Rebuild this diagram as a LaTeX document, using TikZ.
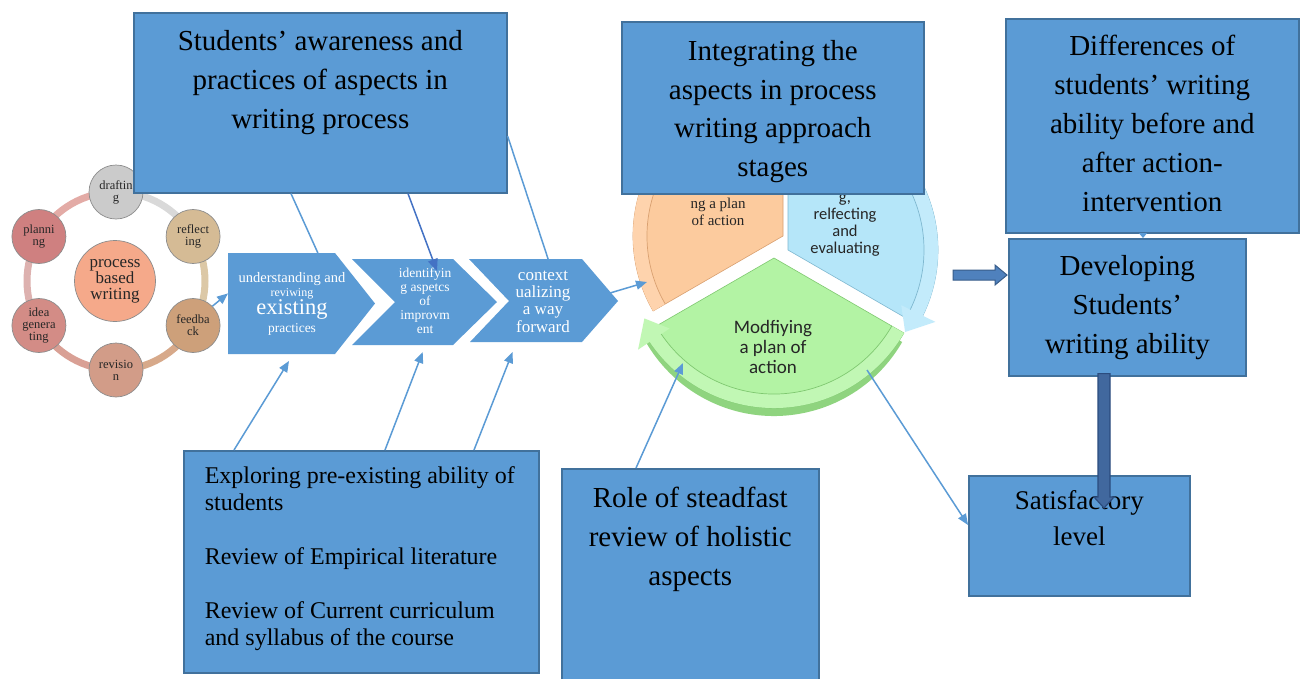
\documentclass[tikz,border=0pt]{standalone}
\usepackage{fontspec}
\setmainfont{Liberation Serif}
\newfontfamily\calfont{Carlito}
\usetikzlibrary{arrows.meta,calc}

\definecolor{boxfill}{HTML}{5B9BD5}
\definecolor{boxedge}{HTML}{41719C}
\definecolor{linkblue}{HTML}{5B9BD5}
\definecolor{linkdark}{HTML}{4472C4}
\definecolor{blockfill}{HTML}{4F81BD}
\definecolor{blockedge}{HTML}{385D8A}
\definecolor{downfill}{HTML}{41689E}
\definecolor{downedge}{HTML}{2B4C7E}
% ring and circles of the writing cycle
\definecolor{cDraft}{HTML}{CBCBCB}
\definecolor{cReflect}{HTML}{D5BB95}
\definecolor{cFeed}{HTML}{CDA07A}
\definecolor{cRevis}{HTML}{D29C88}
\definecolor{cIdea}{HTML}{D38C86}
\definecolor{cPlan}{HTML}{CF8080}
\definecolor{cCore}{HTML}{F5A98A}
\definecolor{rPlanDraft}{HTML}{E3ABA6}
\definecolor{rDraftRefl}{HTML}{D9D9D9}
\definecolor{rReflFeed}{HTML}{DCC8A6}
\definecolor{rFeedRev}{HTML}{D7A98A}
\definecolor{rRevIdea}{HTML}{D9A095}
\definecolor{rIdeaPlan}{HTML}{DDB1AF}
% action research cycle
\definecolor{oBody}{HTML}{FCCB9E}
\definecolor{oBand}{HTML}{FED3AD}
\definecolor{oEdge}{HTML}{D9A070}
\definecolor{bBody}{HTML}{B5E6F9}
\definecolor{bBand}{HTML}{C3EBFB}
\definecolor{bEdge}{HTML}{7FB8D0}
\definecolor{gBody}{HTML}{B3F3A4}
\definecolor{gBand}{HTML}{C1F7B4}
\definecolor{gEdge}{HTML}{7FC870}
\definecolor{gShade}{HTML}{8FD47F}

% one segment of the cycle: vertex, start angle, end angle, body, band, edge
\newcommand\cyseg[6]{%
  \filldraw[fill=#4, draw=#6, line width=0.6pt] (#1) -- ($(#1)+(#2:150)$)
    arc[start angle=#2, end angle=#3, radius=150] -- cycle;
  \fill[#5] ($(#1)+(#2:136)$) arc[start angle=#2, end angle=#3-4, radius=136]
    -- ($(#1)+(#3-4:126)$) -- ($(#1)+(#3+5:143)$) -- ($(#1)+(#3-4:164)$)
    -- ($(#1)+(#3-4:150)$) arc[start angle=#3-4, end angle=#2, radius=150] -- cycle;
  \draw[#6, line width=0.7pt] ($(#1)+(#2:136)$) arc[start angle=#2, end angle=#3-4, radius=136];
}

\begin{document}
\begin{tikzpicture}[x=1pt,y=-1pt,
  bluebox/.style={draw=boxedge, fill=boxfill, line width=1.6pt, inner sep=0pt, anchor=north west},
  link/.style={draw=linkblue, line width=1.5pt},
  tip/.style={-{Triangle[length=11pt,width=9pt]}},
  smallc/.style={circle, minimum size=54pt, inner sep=0pt, draw=black!45, line width=0.7pt,
    align=center, font=\fontsize{12.5}{12}\selectfont, text=black!85},
  ctext/.style={inner sep=0pt, text=white},
  segtext/.style={inner sep=0pt, anchor=north, text=black!85},
]
\useasboundingbox (0,0) rectangle (1303,678);
\fill[white] (0,0) rectangle (1303,678);

% ---------- process based writing cycle ----------
\coordinate (rc) at (116,281);
\foreach \a/\b/\c in {210/270/rPlanDraft, 270/330/rDraftRefl, -30/30/rReflFeed,
                      30/90/rFeedRev, 90/150/rRevIdea, 150/210/rIdeaPlan}
  \draw[\c, line width=7pt] ($(rc)+(\a:89)$) arc[start angle=\a, end angle=\b, radius=89];
\node[smallc, fill=cDraft]   (drafting)   at ($(rc)+(270:89)$) {draftin\\g};
\node[smallc, fill=cReflect] (reflecting) at ($(rc)+(330:89)$) {reflect\\ing};
\node[smallc, fill=cFeed]    (feedback)   at ($(rc)+(30:89)$)  {feedba\\ck};
\node[smallc, fill=cRevis]   (revision)   at ($(rc)+(90:89)$)  {revisio\\n};
\node[smallc, fill=cIdea]    (idea)       at ($(rc)+(150:89)$) {idea\\genera\\ting};
\node[smallc, fill=cPlan]    (planning)   at ($(rc)+(210:89)$) {planni\\ng};
\node[smallc, fill=cCore, minimum size=81pt, font=\fontsize{17}{16}\selectfont]
  (core) at (115,281) {process\\based\\writing};

% ---------- action research cycle ----------
\coordinate (vo) at (783,236);
\coordinate (vb) at (788,250);
\coordinate (vg) at (774,258);
\cyseg{vo}{150}{270}{oBody}{oBand}{oEdge}
\fill[gShade] ($(vg)+(0,10)$) -- ($(vg)+(0,10)+(30:148)$)
  arc[start angle=30, end angle=150, radius=148] -- cycle;
\cyseg{vg}{30}{150}{gBody}{gBand}{gEdge}
\cyseg{vb}{-90}{30}{bBody}{bBand}{bEdge}
\node[segtext] (plantxt) at (718,196)
  {\parbox[t]{90pt}{\centering\fontsize{15}{17}\selectfont\rule{0pt}{12pt}ng a plan\\of action}};
\node[segtext] (evaltxt) at (845,190)
  {\parbox[t]{90pt}{\centering\calfont\fontsize{16.5}{17}\selectfont\rule{0pt}{12pt}g,\\relfecting\\and\\evaluating}};
\node[segtext] (modtxt) at (773,319)
  {\parbox[t]{110pt}{\centering\calfont\fontsize{19}{20}\selectfont\rule{0pt}{14pt}Modfiying\\a plan of\\action}};
\coordinate (orgin) at (647,282);
\coordinate (grnin) at (683,363);
\coordinate (grnout) at (867,370);

% ---------- chevrons ----------
\coordinate (p1a) at (228,253); \coordinate (p1b) at (335,253); \coordinate (p1c) at (375,303.5);
\coordinate (p1d) at (335,354); \coordinate (p1e) at (228,354);
\coordinate (p2a) at (352,259); \coordinate (p2b) at (453,259); \coordinate (p2c) at (497,302);
\coordinate (p2d) at (453,345); \coordinate (p2e) at (352,345); \coordinate (p2f) at (395,302);
\coordinate (p3a) at (469,259); \coordinate (p3b) at (582,259); \coordinate (p3c) at (618,301);
\coordinate (p3d) at (582,342); \coordinate (p3e) at (470,342); \coordinate (p3f) at (509,301);

% box A first, so the lines below leave its edge
\node[bluebox] (aware) at (133,12)
  {\parbox[t][180pt][t]{373pt}{\centering\fontsize{29}{39}\selectfont\rule{0pt}{38pt}Students’ awareness and\\practices of aspects in\\writing process}};

\draw[link] ($(aware.south west)+(158,0)$) -- ($(p1a)!0.84!(p1b)$);
\draw[link] ($(aware.north east)+(0,124)$) -- ($(p3a)!0.7!(p3b)$);

\fill[boxfill] (p1a) -- (p1b) -- (p1c) -- (p1d) -- (p1e) -- cycle;
\fill[boxfill] (p2a) -- (p2b) -- (p2c) -- (p2d) -- (p2e) -- (p2f) -- cycle;
\fill[boxfill] (p3a) -- (p3b) -- (p3c) -- (p3d) -- (p3e) -- (p3f) -- cycle;

\node[ctext, anchor=base, font=\fontsize{14.5}{15}\selectfont] (ch1l1) at (292,282) {understanding and};
\node[ctext, anchor=base, font=\fontsize{12}{12}\selectfont]   (ch1l2) at (292,296) {reviwing};
\node[ctext, anchor=base, font=\fontsize{22.5}{23}\selectfont] (ch1l3) at (292,314) {existing};
\node[ctext, anchor=base, font=\fontsize{13.5}{14}\selectfont] (ch1l4) at (292,332) {practices};
\node[ctext, anchor=north] (ch2txt) at (425,266)
  {\parbox[t]{90pt}{\centering\fontsize{13.5}{14}\selectfont\rule{0pt}{11pt}identifyin\\g aspetcs\\of\\improvm\\ent}};
\node[ctext, anchor=north] (ch3txt) at (543,266)
  {\parbox[t]{100pt}{\centering\fontsize{17}{17.3}\selectfont\rule{0pt}{14pt}context\\ualizing\\a way\\forward}};
\coordinate (ch2in) at ($(p2a)+(85,12)$);

% ---------- boxes ----------
\node[bluebox] (integ) at (621,21)
  {\parbox[t][172pt][t]{302pt}{\centering\fontsize{29}{38.5}\selectfont\rule{0pt}{39pt}Integrating the\\aspects in process\\writing approach\\stages}};
\node[bluebox] (diff) at (1005,18)
  {\parbox[t][214pt][t]{293pt}{\centering\fontsize{29}{38.8}\selectfont\rule{0pt}{37pt}Differences of\\students’ writing\\ability before and\\after action-\\intervention}};
\node[bluebox] (devel) at (1008,238)
  {\parbox[t][137pt][t]{237pt}{\centering\fontsize{29}{39}\selectfont\rule{0pt}{37pt}Developing\\Students’\\writing ability}};
\node[bluebox] (notes) at (183,450)
  {\parbox[t][222pt][t]{355pt}{\raggedright\leftskip=21pt\fontsize{24}{27}\selectfont\rule{0pt}{33pt}Exploring pre-existing ability of\\students\\[27pt]Review of Empirical literature\\[27pt]Review of Current curriculum\\and syllabus of the course}};
\node[bluebox] (role) at (561,468)
  {\parbox[t][212pt][t]{257pt}{\centering\fontsize{29}{39}\selectfont\rule{0pt}{39pt}Role of steadfast\\review of holistic\\aspects}};
\node[bluebox] (sat) at (968,475)
  {\parbox[t][120pt][t]{221pt}{\centering\fontsize{27}{36}\selectfont\rule{0pt}{34pt}Satisfactory\\level}};

% ---------- connectors ----------
\draw[link, draw=linkdark, -{Triangle[length=12pt,width=10pt]}, color=linkdark]
  ($(aware.south west)+(275,0)$) -- (ch2in);
\draw[link, tip, color=linkblue] (feedback.45) -- ($(p1e)!0.6!(p1a)$);
\draw[link, tip, color=linkblue] ($(p3c)+(-8,-8)$) -- (orgin);
\draw[link, tip, color=linkblue] ($(notes.north west)+(51,0)$) -- ($(p1e)!0.57!(p1d)+(0,7)$);
\draw[link, tip, color=linkblue] ($(notes.north west)+(202,0)$) -- ($(p2e)!0.7!(p2d)+(0,7)$);
\draw[link, tip, color=linkblue] ($(notes.north west)+(291,0)$) -- ($(p3e)!0.38!(p3d)+(0,10)$);
\draw[link, tip, color=linkblue] ($(role.north west)+(75,0)$) -- (grnin);
\draw[link, tip, color=linkblue] (grnout) -- ($(sat.north west)+(0,50)$);
\draw[linkblue, line width=1pt, -{Triangle[length=5pt,width=8pt]}]
  ($(diff.south west)+(138,0)$) -- ($(devel.north west)+(135,0)$);

% block arrow into the development box
\coordinate (bt) at ($(devel.north west)+(-1,37)$);
\filldraw[fill=blockfill, draw=blockedge, line width=1pt]
  ($(bt)+(-54,-5)$) -- ($(bt)+(-12,-5)$) -- ($(bt)+(-12,-10)$) -- (bt)
  -- ($(bt)+(-12,10)$) -- ($(bt)+(-12,5)$) -- ($(bt)+(-54,5)$) -- cycle;

% thick arrow down to the satisfactory level
\coordinate (dt) at ($(sat.north west)+(136,33)$);
\coordinate (ds) at ($(devel.south west)+(96,-3)$);
\filldraw[fill=downfill, draw=downedge, line width=1.2pt]
  ($(ds)+(-6,0)$) -- ($(ds)+(6,0)$) -- ($(dt)+(6,-11)$) -- ($(dt)+(10,-11)$) -- (dt)
  -- ($(dt)+(-10,-11)$) -- ($(dt)+(-6,-11)$) -- cycle;
\end{tikzpicture}
\end{document}
